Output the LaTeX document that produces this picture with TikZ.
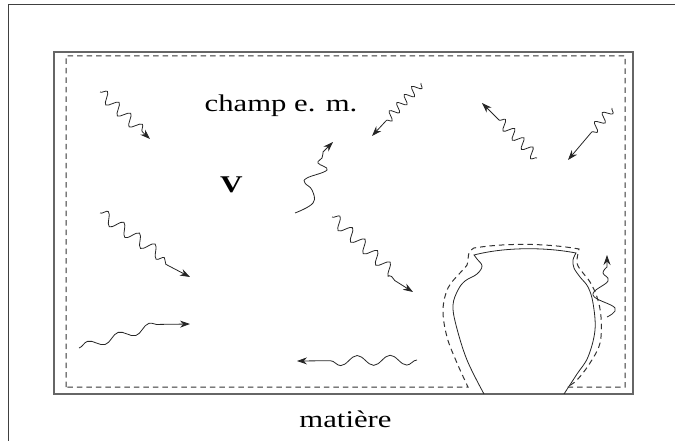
\documentclass[tikz,border=0pt]{standalone}
\usepackage{fontspec}
\setmainfont{Liberation Serif}
\usepackage{graphicx}
\usetikzlibrary{arrows.meta,decorations.pathmorphing}

\tikzset{
  photon/.style={draw=black!85, line width=0.8pt, decorate,
    decoration={snake, amplitude=5.5pt, segment length=16pt, post length=10pt},
    -{Stealth[length=10pt,width=7pt]}},
  txt/.style={font=\fontsize{24}{28}\selectfont, inner sep=0pt},
  vase/.style={draw=black!85, line width=0.8pt},
}

\begin{document}
\begin{tikzpicture}[x=1pt,y=-1pt]
  \useasboundingbox (0,0) rectangle (675,441);
  % cadre
  \draw[black!75, line width=1pt] (8.5,441) -- (8.5,4.5) -- (675,4.5);
  \draw[black!60, line width=1.3pt] (54,52) rectangle (633,394);
  % textes
  \node[txt, anchor=base] (champ) at (281,112) {\scalebox{1.28}[1]{champ e. m.}};
  \node[txt, anchor=base] (vide) at (231.5,193) {\scalebox{1.3}[1]{\textbf{V}}};
  \node[txt, anchor=base] (matiere) at (345.5,427) {\scalebox{1.28}[1]{matière}};
  % bouts des ondes
  \coordinate (a1) at (100,92);  \coordinate (b1) at (150,139);
  \coordinate (a2) at (421,83);  \coordinate (b2) at (372,136);
  \coordinate (a3) at (295,213); \coordinate (b3) at (333,142);
  \coordinate (a4) at (537,158); \coordinate (b4) at (482,103);
  \coordinate (a5) at (612,108); \coordinate (b5) at (568,160);
  \coordinate (a6) at (100,213); \coordinate (b6) at (190,277);
  \coordinate (a7) at (332,217); \coordinate (b7) at (413,292);
  \coordinate (a8) at (79,348);  \coordinate (b8) at (190,324);
  \coordinate (a9) at (417,360); \coordinate (b9) at (297,361);
  \coordinate (a10) at (607,317); \coordinate (b10) at (607,255);
  % ondes
  \draw[photon] (a1) -- (b1);
  \draw[photon, decoration={amplitude=4.5pt, segment length=11pt, post length=20pt}] (a2) -- (b2);
  \draw[photon, decorate=false] plot[smooth, tension=0.7] coordinates
    {(a3) (313,203) (312,190) (305,183) (307,178) (327,170) (318,163) (322,158) (323,152)} -- (b3);
  \draw[photon, decoration={amplitude=5pt, segment length=13pt, post length=18pt}] (a4) -- (b4);
  \draw[photon, decoration={amplitude=4.5pt, segment length=12pt, post length=35pt}] (a5) -- (b5);
  \draw[photon, decoration={amplitude=6pt, segment length=19pt, post length=28pt}]
    (a6) -- (162,256) .. controls (165,268) and (176,275) .. (b6);
  \draw[photon, decoration={amplitude=6pt, segment length=17pt, post length=22pt}]
    (a7) -- (392,272) .. controls (393,284) and (403,289) .. (b7);
  \draw[photon, decoration={amplitude=4pt, segment length=32pt, post length=29pt}]
    (a8) -- (161,324) -- (b8);
  \draw[photon, decoration={amplitude=5pt, segment length=33pt, post length=19pt}] (a9) -- (b9);
  \draw[photon, decorate=false] plot[smooth, tension=0.7] coordinates
    {(a10) (615,308) (593,295) (608,281) (603,273) (607,267)} -- (b10);
  % vase
  \draw[vase] plot[smooth, tension=0.6] coordinates
    {(484,394) (467,360) (456,325) (453,305) (458,290) (465,281) (477,274) (482,266) (477,259) (474,255)}
    .. controls (505,247) and (545,247) .. (576,253)
    -- plot[smooth, tension=0.6] coordinates
    {(576,253) (573,260) (574,268) (580,277) (588,287) (593,303) (595,330) (588,357) (577,374) (564,394)};
  % limite de la matiere
  \draw[black!80, line width=1pt, dash pattern=on 5.5pt off 4pt]
    (66,387) -- (66,56) -- (625,56) -- (625,387) -- (567,387)
    -- plot[smooth, tension=0.6] coordinates
    {(567,387) (577,380) (590,363) (600,343) (601,317) (597,297) (590,282) (583,273) (577,263) (579,249)}
    .. controls (545,243) and (505,243) .. (474,248)
    -- plot[smooth, tension=0.6] coordinates
    {(474,248) (469,253) (467,265) (460,273) (448,288) (443,310) (447,337) (457,363) (468,387)}
    -- cycle;
\end{tikzpicture}
\end{document}
